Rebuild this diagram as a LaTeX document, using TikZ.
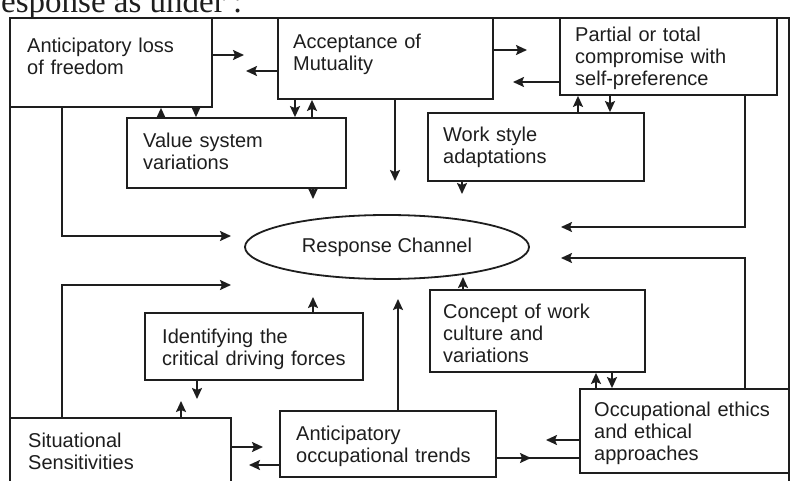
\documentclass[tikz,border=0pt]{standalone}
\usepackage{fontspec}
\setmainfont{Liberation Sans}
\newfontfamily\headserif{Liberation Serif}
\usetikzlibrary{arrows.meta,shapes.geometric,fit}
\definecolor{ink}{HTML}{1E1E1E}

\begin{document}
\begin{tikzpicture}[x=1pt,y=-1pt,
  box/.style={draw=ink, line width=1.8pt, inner sep=0pt},
  txt/.style={anchor=base west, inner sep=0pt, text width=215pt, align=left,
              text=ink, font=\fontsize{20}{22}\selectfont},
  conn/.style={draw=ink, line width=1.8pt},
  arr/.style={conn, -{Stealth[length=11pt,width=10pt,inset=2pt]}},
]
\useasboundingbox (0,0) rectangle (793,481);
\clip (0,0) rectangle (793,481);
\fill[white] (0,0) rectangle (793,481);

% running text above the chart
\node[anchor=base west, inner sep=0pt, text=ink,
      font=\headserif\fontsize{33}{33}\selectfont] (head) at (1,13) {esponse as under :};

% outer frame
\node[box, fit={(10,18) (789,495)}] (frame) {};

% boxes
\node[box, fit={(10,18) (212,107)}]  (loss)    {};
\node[box, fit={(278,18) (493,99)}]  (accept)  {};
\node[box, fit={(560,18) (777,95)}]  (partial) {};
\node[box, fit={(127,118) (346,188)}] (value)  {};
\node[box, fit={(428,113) (644,181)}] (work)   {};
\node[box, fit={(430,290) (645,372)}] (concept) {};
\node[box, fit={(145,313) (363,380)}] (ident)  {};
\node[box, fit={(10,418) (231,495)}]  (situ)   {};
\node[box, fit={(280,411) (496,477)}] (trends) {};
\node[box, fit={(580,389) (789,473)}] (ethics) {};

% box texts
\node[txt] (lossT)    at (27,53)   {Anticipatory loss\\of freedom};
\node[txt] (acceptT)  at (293,49)  {Acceptance of\\Mutuality};
\node[txt] (partialT) at (575,42)  {Partial or total\\compromise with\\self-preference};
\node[txt] (valueT)   at (143,148) {Value system\\variations};
\node[txt] (workT)    at (443,142) {Work style\\adaptations};
\node[txt] (conceptT) at (443,319) {Concept of work\\culture and\\variations};
\node[txt] (identT)   at (162,343) {Identifying the\\critical driving forces};
\node[txt] (situT)    at (28,447)  {Situational\\Sensitivities};
\node[txt] (trendsT)  at (296,440) {Anticipatory\\occupational trends};
\node[txt] (ethicsT)  at (594,416) {Occupational ethics\\and ethical\\approaches};

% central channel
\node[draw=ink, line width=1.8pt, ellipse, minimum width=284pt, minimum height=64pt,
      inner sep=0pt, text=ink, font=\fontsize{20}{22}\selectfont] (resp) at (387,247)
      {Response Channel};

% loss <-> acceptance
\coordinate (a1) at (244,55);  \draw[arr] (loss.east |- a1) -- (a1);
\coordinate (a2) at (246,71);  \draw[arr] (accept.west |- a2) -- (a2);
% acceptance <-> partial compromise
\coordinate (a3) at (527,50);  \draw[arr] (accept.east |- a3) -- (a3);
\coordinate (a4) at (513,82);  \draw[arr] (partial.west |- a4) -- (a4);

% top boxes <-> second row
\coordinate (v1) at (161,0);  \draw[arr] (value.north -| v1) -- (loss.south -| v1);
\coordinate (v2) at (196,0);  \draw[arr] (loss.south -| v2) -- (value.north -| v2);
\coordinate (v3) at (295,0);  \draw[arr] (accept.south -| v3) -- (value.north -| v3);
\coordinate (v4) at (312,0);  \draw[arr] (value.north -| v4) -- (accept.south -| v4);
\coordinate (v5) at (578,0);  \draw[arr] (work.north -| v5) -- (partial.south -| v5);
\coordinate (v6) at (610,0);  \draw[arr] (partial.south -| v6) -- (work.north -| v6);

% downward feeds towards the channel
\coordinate (d1) at (395,181); \draw[arr] (accept.south -| d1) -- (d1);
\coordinate (d2) at (313,199); \draw[arr] (value.south -| d2) -- (d2);
\coordinate (d3) at (462,194); \draw[arr] (work.south -| d3) -- (d3);

% side feeds
\coordinate (l1) at (62,236);  \coordinate (l1e) at (231,236);
\draw[arr] (loss.south -| l1) -- (l1) -- (l1e);
\coordinate (l2) at (62,285);  \coordinate (l2e) at (231,285);
\draw[arr] (situ.north -| l2) -- (l2) -- (l2e);
\coordinate (r1) at (745,227); \coordinate (r1e) at (561,227);
\draw[arr] (partial.south -| r1) -- (r1) -- (r1e);
\coordinate (r2) at (745,258); \coordinate (r2e) at (561,258);
\draw[arr] (ethics.north -| r2) -- (r2) -- (r2e);

% upward feeds towards the channel
\coordinate (u1) at (313,297); \draw[arr] (ident.north -| u1) -- (u1);
\coordinate (u2) at (463,277); \draw[arr] (concept.north -| u2) -- (u2);
\coordinate (u3) at (398,299); \draw[arr] (trends.north -| u3) -- (u3);

% identifying <-> situational
\coordinate (s1) at (197,399); \draw[arr] (ident.south -| s1) -- (s1);
\coordinate (s2) at (181,401); \draw[arr] (situ.north -| s2) -- (s2);

% situational <-> trends
\coordinate (b1) at (263,447); \draw[arr] (situ.east |- b1) -- (b1);
\coordinate (b2) at (249,465); \draw[arr] (trends.west |- b2) -- (b2);

% trends <-> ethics
\coordinate (b3) at (531,458);
\draw[conn] (trends.east |- b3) -- (ethics.west |- b3);
\draw[arr] (trends.east |- b3) -- (b3);
\coordinate (b4) at (546,440); \draw[arr] (ethics.west |- b4) -- (b4);

% concept <-> ethics
\coordinate (e1) at (596,0); \draw[arr] (ethics.north -| e1) -- (concept.south -| e1);
\coordinate (e2) at (612,0); \draw[arr] (concept.south -| e2) -- (ethics.north -| e2);
\end{tikzpicture}
\end{document}
